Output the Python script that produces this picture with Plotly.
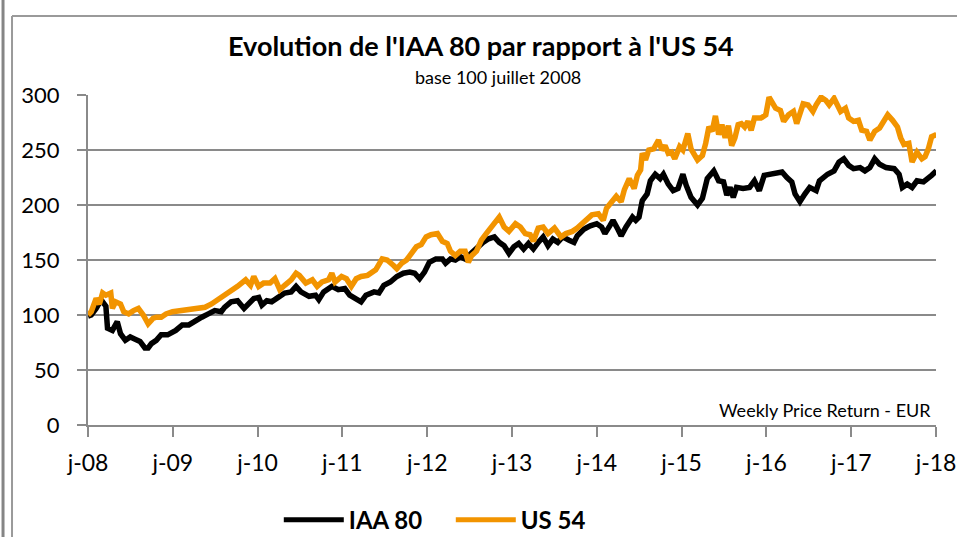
import pandas as pd
import plotly.graph_objects as go

# ---------------- data (weekly, base 100 = juillet 2008) ----------------
base_date = "2008-07-01"

iaa_weeks = [0, 2, 5, 7, 9, 11, 12, 15, 18, 20, 23, 26, 29, 32, 35, 37, 39, 42, 45, 49,
             54, 58, 62, 66, 70, 74, 78, 82, 84, 88, 92, 96, 99, 102, 105, 107, 110, 113,
             117, 121, 125, 128, 131, 136, 140, 142, 145, 150, 154, 158, 161, 165, 168,
             171, 176, 179, 182, 186, 190, 194, 198, 201, 204, 207, 210, 214, 218, 220,
             223, 226, 229, 232, 236, 239, 243, 246, 250, 253, 256, 259, 262, 265, 268,
             271, 274, 277, 280, 283, 286, 289, 292, 296, 299, 301, 305, 309, 313, 316,
             318, 321, 323, 326, 328, 331, 335, 337, 339, 341, 344, 346, 349, 352, 354,
             357, 360, 363, 366, 368, 371, 375, 378, 381, 383, 385, 388, 391, 393, 395,
             397, 399, 403, 407, 410, 413, 416, 420, 424, 427, 430, 433, 435, 438, 441,
             444, 448, 450, 455, 459, 462, 465, 468, 471, 475, 478, 481, 484, 487, 491,
             496, 499, 501, 504, 507, 510, 514, 517, 519, 522]
iaa_values = [99, 100, 106, 111, 112, 108, 88, 86, 94, 83, 77, 80, 78, 76, 70, 70, 74, 77, 82, 82,
              86, 91, 91, 95, 98, 101, 104, 103, 107, 112, 113, 106, 110, 115, 116, 109, 113, 112,
              116, 120, 121, 126, 121, 117, 118, 114, 121, 126, 123, 124, 118, 115, 112,
              118, 121, 120, 127, 130, 135, 138, 139, 138, 133, 139, 148, 151, 151, 147,
              151, 150, 153, 151, 157, 160, 166, 169, 171, 166, 163, 156, 162, 165, 160,
              165, 160, 166, 171, 163, 169, 166, 171, 168, 166, 172, 178, 181, 183, 180,
              174, 181, 186, 178, 172, 180, 189, 186, 189, 204, 210, 222, 228, 224, 228,
              219, 213, 215, 228, 218, 207, 200, 206, 224, 228, 231, 222, 221, 209, 216,
              207, 216, 215, 216, 222, 213, 227, 228, 230, 230, 225, 221, 210, 203, 210,
              216, 213, 222, 228, 231, 239, 242, 236, 233, 234, 231, 234, 242, 237, 234,
              233, 228, 216, 219, 216, 222, 221, 224, 227, 231]

us_weeks = [0, 2, 5, 7, 9, 11, 14, 15, 17, 20, 22, 25, 28, 31, 34, 37, 40, 42, 45, 48,
            52, 57, 61, 65, 69, 72, 76, 80, 84, 88, 92, 97, 100, 102, 105, 108, 112, 115,
            118, 121, 125, 128, 130, 134, 138, 141, 144, 148, 150, 152, 156, 159, 162,
            165, 168, 172, 177, 181, 184, 188, 190, 193, 196, 199, 202, 205, 208, 211,
            215, 218, 221, 223, 226, 229, 232, 234, 236, 239, 242, 245, 248, 250, 253,
            256, 259, 263, 266, 269, 272, 274, 277, 280, 283, 287, 291, 294, 298, 301,
            304, 307, 310, 314, 317, 319, 322, 325, 328, 330, 333, 336, 338, 340, 341,
            343, 345, 348, 351, 353, 355, 357, 359, 361, 364, 366, 369, 371, 375, 378,
            380, 382, 384, 386, 388, 390, 392, 394, 396, 398, 400, 402, 404, 406, 408,
            410, 414, 417, 419, 421, 423, 426, 428, 431, 434, 436, 438, 440, 443, 446,
            448, 451, 454, 456, 459, 461, 463, 466, 468, 471, 474, 476, 479, 481, 484,
            487, 490, 492, 495, 498, 500, 502, 505, 507, 510, 513, 515, 517, 519, 522]
us_values = [100, 103, 115, 110, 120, 118, 120, 106, 112, 110, 103, 101, 104, 106, 100, 92, 97, 98, 98, 101,
             103, 104, 104, 106, 106, 107, 110, 114, 117, 121, 126, 132, 127, 135, 126, 129, 129, 133,
             123, 127, 132, 138, 136, 129, 132, 126, 130, 132, 138, 130, 135, 133, 126,
             133, 135, 136, 141, 151, 150, 145, 142, 147, 150, 156, 162, 164, 171, 173,
             174, 167, 165, 158, 154, 158, 158, 148, 154, 158, 168, 174, 180, 182, 189,
             180, 176, 183, 180, 174, 173, 167, 179, 180, 174, 179, 171, 174, 176, 179,
             183, 188, 191, 192, 186, 197, 203, 208, 203, 214, 224, 215, 227, 232, 247,
             241, 250, 251, 259, 250, 254, 247, 248, 242, 253, 250, 265, 251, 241, 245,
             256, 271, 267, 281, 264, 273, 261, 272, 254, 261, 273, 274, 271, 276, 268,
             279, 279, 282, 298, 294, 288, 286, 276, 282, 285, 274, 282, 292, 291, 285,
             291, 298, 295, 291, 297, 292, 285, 288, 279, 276, 277, 268, 267, 259, 267,
             270, 276, 282, 277, 271, 261, 255, 256, 239, 248, 242, 244, 251, 262, 264]

series_names = ["IAA 80", "US 54"]
series_colors = ["#000000", "#F29400"]

tick_dates = ["2008-07-01", "2009-07-01", "2010-07-01", "2011-07-01", "2012-07-01", "2013-07-01",
              "2014-07-01", "2015-07-01", "2016-07-01", "2017-07-01", "2018-07-01"]
tick_labels = ["j-08", "j-09", "j-10", "j-11", "j-12", "j-13", "j-14", "j-15", "j-16", "j-17", "j-18"]
y_ticks = [0, 50, 100, 150, 200, 250, 300]

title_text = "Evolution de l'IAA 80 par rapport à l'US 54"
subtitle_text = "base 100 juillet 2008"
note_text = "Weekly Price Return - EUR"

# ---------------- figure ----------------
start = pd.Timestamp(base_date)
iaa_dates = [start + pd.Timedelta(weeks=w) for w in iaa_weeks]
us_dates = [start + pd.Timedelta(weeks=w) for w in us_weeks]

FONT = "Lato"
GRID = "#8a8a8a"

fig = go.Figure()
fig.add_trace(go.Scatter(x=iaa_dates, y=iaa_values, mode="lines", name=series_names[0],
                         line=dict(color=series_colors[0], width=5.5)))
fig.add_trace(go.Scatter(x=us_dates, y=us_values, mode="lines", name=series_names[1],
                         line=dict(color=series_colors[1], width=5.5)))

fig.update_layout(
    width=957, height=537,
    margin=dict(l=88, r=21, t=95, b=112, autoexpand=False),
    paper_bgcolor="white", plot_bgcolor="white",
    font=dict(family=FONT, color="#000000"),
    showlegend=True,
    legend=dict(orientation="h", x=0.225, xanchor="left", y=-0.288, yanchor="middle",
                font=dict(family=FONT, size=24, color="#000000", weight="bold"),
                entrywidth=97, entrywidthmode="pixels",
                itemwidth=60, itemsizing="constant", bgcolor="rgba(0,0,0,0)"),
)

fig.update_xaxes(
    type="date", range=["2008-07-01", "2018-07-01"],
    tickmode="array", tickvals=tick_dates, ticktext=tick_labels,
    showgrid=False, showline=True, linecolor=GRID, linewidth=2,
    ticks="outside", ticklen=10, tickwidth=2, tickcolor=GRID,
    tickfont=dict(family=FONT, size=23, color="#000000"),
    ticklabelstandoff=6, zeroline=False,
)
fig.update_yaxes(
    range=[0, 300], tickmode="array", tickvals=y_ticks,
    showgrid=True, gridcolor=GRID, gridwidth=2,
    showline=True, linecolor=GRID, linewidth=2,
    ticks="outside", ticklen=9, tickwidth=2, tickcolor=GRID,
    tickfont=dict(family=FONT, size=22, color="#000000"),
    ticklabelstandoff=13, zeroline=False,
)

# titles and note
fig.add_annotation(text=title_text, xref="paper", yref="paper", x=0.4640, y=1.1515,
                   xanchor="center", yanchor="middle", showarrow=False,
                   font=dict(family=FONT, size=27, color="#000000", weight="bold"))
fig.add_annotation(text=subtitle_text, xref="paper", yref="paper", x=0.4835, y=1.0545,
                   xanchor="center", yanchor="middle", showarrow=False,
                   font=dict(family=FONT, size=18, color="#000000"))
fig.add_annotation(text=note_text, xref="paper", yref="paper", x=0.9965, y=0.045,
                   xanchor="right", yanchor="middle", showarrow=False,
                   font=dict(family=FONT, size=18, color="#000000"))

# chart frame
fig.add_shape(type="line", xref="paper", yref="paper", x0=-0.1002, x1=-0.1002, y0=1.3, y1=-0.4,
              line=dict(color="#858585", width=3))
fig.add_shape(type="line", xref="paper", yref="paper", x0=-0.0896, x1=-0.0896, y0=1.2394, y1=-0.4,
              line=dict(color="#9a9a9a", width=2))
fig.add_shape(type="line", xref="paper", yref="paper", x0=-0.0896, x1=1.1, y0=1.2394, y1=1.2394,
              line=dict(color="#9a9a9a", width=2))

fig.write_html("out.html", config={"displayModeBar": False},
               post_script="document.body.style.margin='0';document.body.style.overflow='hidden';")
